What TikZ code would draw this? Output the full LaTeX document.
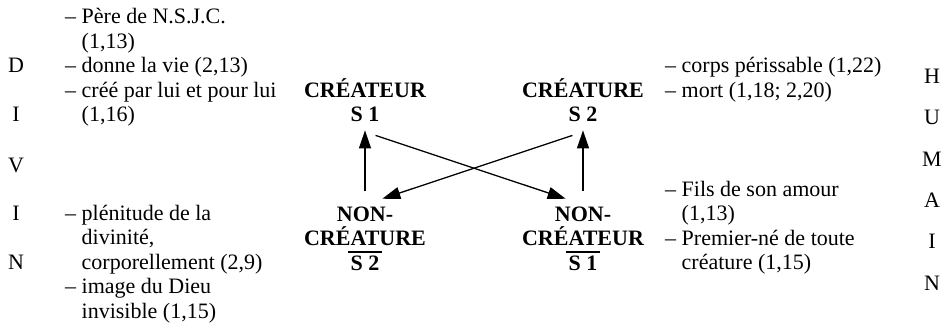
\documentclass[tikz,border=0pt]{standalone}
\usepackage{fontspec}
\setmainfont{Liberation Serif}
\usetikzlibrary{arrows.meta}
\begin{document}
\begin{tikzpicture}[x=1pt,y=-1pt,
  txt/.style={anchor=base west,inner sep=0pt,font=\fontsize{22}{24.5}\selectfont},
  letter/.style={anchor=base,inner sep=0pt,font=\fontsize{22}{24.5}\selectfont},
  lbl/.style={anchor=base,inner sep=0pt,font=\fontsize{22}{24.5}\selectfont\bfseries},
  arr/.style={line width=1.3pt,-{Triangle[length=18pt,width=12pt]}},
  bar/.style={line width=1.6pt}]
\useasboundingbox (0,0) rectangle (948,322);
% left letters
\node[letter] (d1) at (16,72.5) {D};
\node[letter] (d2) at (16,121.5) {I};
\node[letter] (d3) at (16,172) {V};
\node[letter] (d4) at (16,220) {I};
\node[letter] (d5) at (16,269) {N};
% right letters
\node[letter] (h1) at (932,83) {H};
\node[letter] (h2) at (932,124) {U};
\node[letter] (h3) at (932,166) {M};
\node[letter] (h4) at (932,207) {A};
\node[letter] (h5) at (932,248) {I};
\node[letter] (h6) at (932,290) {N};
% left texts
\node[txt] (l1) at (65,23) {– Père de N.S.J.C.};
\node[txt] (l2) at (65,48) {\hphantom{– }(1,13)};
\node[txt] (l3) at (65,72.5) {– donne la vie (2,13)};
\node[txt] (l4) at (65,97) {– créé par lui et pour lui};
\node[txt] (l5) at (65,121.5) {\hphantom{– }(1,16)};
\node[txt] (l6) at (65,220) {– plénitude de la};
\node[txt] (l7) at (65,244.5) {\hphantom{– }divinité,};
\node[txt] (l8) at (65,269) {\hphantom{– }corporellement (2,9)};
\node[txt] (l9) at (65,293.5) {– image du Dieu};
\node[txt] (l10) at (65,318) {\hphantom{– }invisible (1,15)};
% right texts
\node[txt] (r1) at (665,72.5) {– corps périssable (1,22)};
\node[txt] (r2) at (665,97) {– mort (1,18; 2,20)};
\node[txt] (r3) at (665,196) {– Fils de son amour};
\node[txt] (r4) at (665,220.5) {\hphantom{– }(1,13)};
\node[txt] (r5) at (665,245) {– Premier-né de toute};
\node[txt] (r6) at (665,269.5) {\hphantom{– }créature (1,15)};
% central labels
\node[lbl] (c1) at (365,97) {CRÉATEUR};
\node[lbl] (s1) at (365,121.5) {S 1};
\node[lbl] (c2) at (583,97) {CRÉATURE};
\node[lbl] (s2) at (583,121.5) {S 2};
\node[lbl] (n2a) at (365,221) {NON-};
\node[lbl] (n2b) at (365,245.5) {CRÉATURE};
\node[lbl] (n2c) at (365,270) {S 2};
\node[lbl] (n1a) at (583,221) {NON-};
\node[lbl] (n1b) at (583,245.5) {CRÉATEUR};
\node[lbl] (n1c) at (583,270) {S 1};
\draw[bar] ([xshift=-2pt,yshift=3pt]n2c.north west) -- ([xshift=2pt,yshift=3pt]n2c.north east);
\draw[bar] ([xshift=-2pt,yshift=3pt]n1c.north west) -- ([xshift=2pt,yshift=3pt]n1c.north east);
% arrows
\draw[arr] ([yshift=15pt]n2a.north) -- ([yshift=-8.5pt]s1.south);
\draw[arr] ([yshift=15pt]n1a.north) -- ([yshift=-8.5pt]s2.south);
\draw[arr] ([xshift=-4pt,yshift=-13.5pt]s1.south east) -- ([xshift=11pt,yshift=7.5pt]n1a.north west);
\draw[arr] ([xshift=4pt,yshift=-13.5pt]s2.south west) -- ([xshift=-11pt,yshift=7.5pt]n2a.north east);
\end{tikzpicture}
\end{document}
